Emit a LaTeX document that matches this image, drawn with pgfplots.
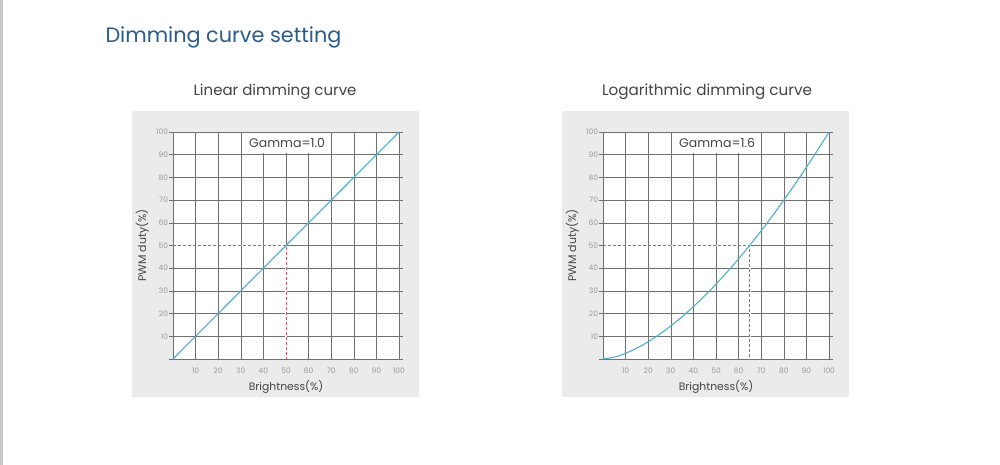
\documentclass[border=0pt]{standalone}
\usepackage{fontspec}
\setmainfont{Poppins}
\usepackage{pgfplots}
\pgfplotsset{compat=1.18}
\definecolor{titleblue}{HTML}{2B5C8A}
\definecolor{panelgray}{HTML}{EBEBEB}
\definecolor{gridgray}{HTML}{707070}
\definecolor{curveblue}{HTML}{4DB0CE}
\definecolor{dashred}{HTML}{D05858}
\definecolor{ticktext}{HTML}{9A9A9A}
\definecolor{labeltext}{HTML}{444444}

\pgfplotstableread{
x y
0 0
10 10
20 20
30 30
40 40
50 50
60 60
70 70
80 80
90 90
100 100
}\linear

\pgfplotstableread{
x y
0 0
5 0.83
10 2.51
15 4.81
20 7.62
25 10.88
30 14.57
35 18.64
40 23.08
45 27.87
50 32.99
55 38.42
60 44.16
65 50.19
70 56.51
75 63.11
80 69.98
85 77.10
90 84.49
95 92.12
100 100
}\gammacurve

\pgfplotsset{
  dimstyle/.style={
    scale only axis, width=226pt, height=227pt,
    xmin=0, xmax=100, ymin=0, ymax=100,
    axis background/.style={fill=white},
    xtick={10,20,...,100}, ytick={0,10,...,100},
    yticklabels={,10,20,30,40,50,60,70,80,90,100},
    grid=major,
    major grid style={gridgray, line width=0.5pt},
    axis line style={gridgray, line width=0.6pt},
    tick style={gridgray, line width=0.5pt},
    tick align=outside,
    major tick length=4pt,
    x tick style={draw=none},
    extra x ticks={0},
    extra x tick labels={},
    extra x tick style={grid=none, tick style={gridgray, line width=0.5pt}, major tick length=4pt},
    /pgf/number format/assume math mode=true,
    ticklabel style={font=\fontsize{7.5}{8}\selectfont, text=ticktext},
    xticklabel style={yshift=-1pt},
    yticklabel style={inner sep=0.8pt},
    clip=false,
  }
}

\begin{document}
\begin{tikzpicture}[x=1pt,y=1pt]
\fill[white] (0,0) rectangle (1000,465);
\fill[black!22] (0,0) rectangle (3,465);
\fill[panelgray] (132,68) rectangle (419,354);
\fill[panelgray] (562,68) rectangle (849,354);
\node[text=titleblue, font=\fontsize{20.8}{24}\selectfont, anchor=base west] at (102,422) {Dimming curve setting};
\node[text=labeltext, font=\fontsize{15}{18}\selectfont] at (275,373) {Linear dimming curve};
\node[text=labeltext, font=\fontsize{15.2}{18}\selectfont] at (707,373) {Logarithmic dimming curve};

\begin{axis}[dimstyle, at={(173pt,106pt)}, anchor=south west]
\addplot[white, line width=1.3pt] coordinates {(0.3,50) (50,50) (50,0.3)};
\addplot[dashred, line width=0.85pt, dash pattern=on 3pt off 2pt] coordinates {(0,50) (50,50) (50,0)};
\addplot[curveblue, line width=1.1pt] table[x=x,y=y] {\linear};
\node[fill=white, inner xsep=4pt, minimum height=20pt, text=labeltext, font=\fontsize{12.5}{14}\selectfont] at (axis cs:50.5,95) {Gamma=1.0};
\node[rotate=90, text=labeltext, font=\fontsize{11}{13}\selectfont] at (axis description cs:-0.135,0.5) {PWM duty(\%)};
\node[text=labeltext, font=\fontsize{10.8}{13}\selectfont] at (axis description cs:0.5,-0.123) {Brightness(\%)};
\end{axis}

\begin{axis}[dimstyle, at={(603pt,106pt)}, anchor=south west]
\addplot[white, line width=1.3pt] coordinates {(0.3,50) (65,50) (65,0.3)};
\addplot[dashred, line width=0.85pt, dash pattern=on 3pt off 2pt] coordinates {(0,50) (65,50) (65,0)};
\addplot[curveblue, line width=1.1pt, smooth] table[x=x,y=y] {\gammacurve};
\node[fill=white, inner xsep=4pt, minimum height=20pt, text=labeltext, font=\fontsize{12.5}{14}\selectfont] at (axis cs:50.5,95) {Gamma=1.6};
\node[rotate=90, text=labeltext, font=\fontsize{11}{13}\selectfont] at (axis description cs:-0.135,0.5) {PWM duty(\%)};
\node[text=labeltext, font=\fontsize{10.8}{13}\selectfont] at (axis description cs:0.5,-0.123) {Brightness(\%)};
\end{axis}
\end{tikzpicture}
\end{document}
